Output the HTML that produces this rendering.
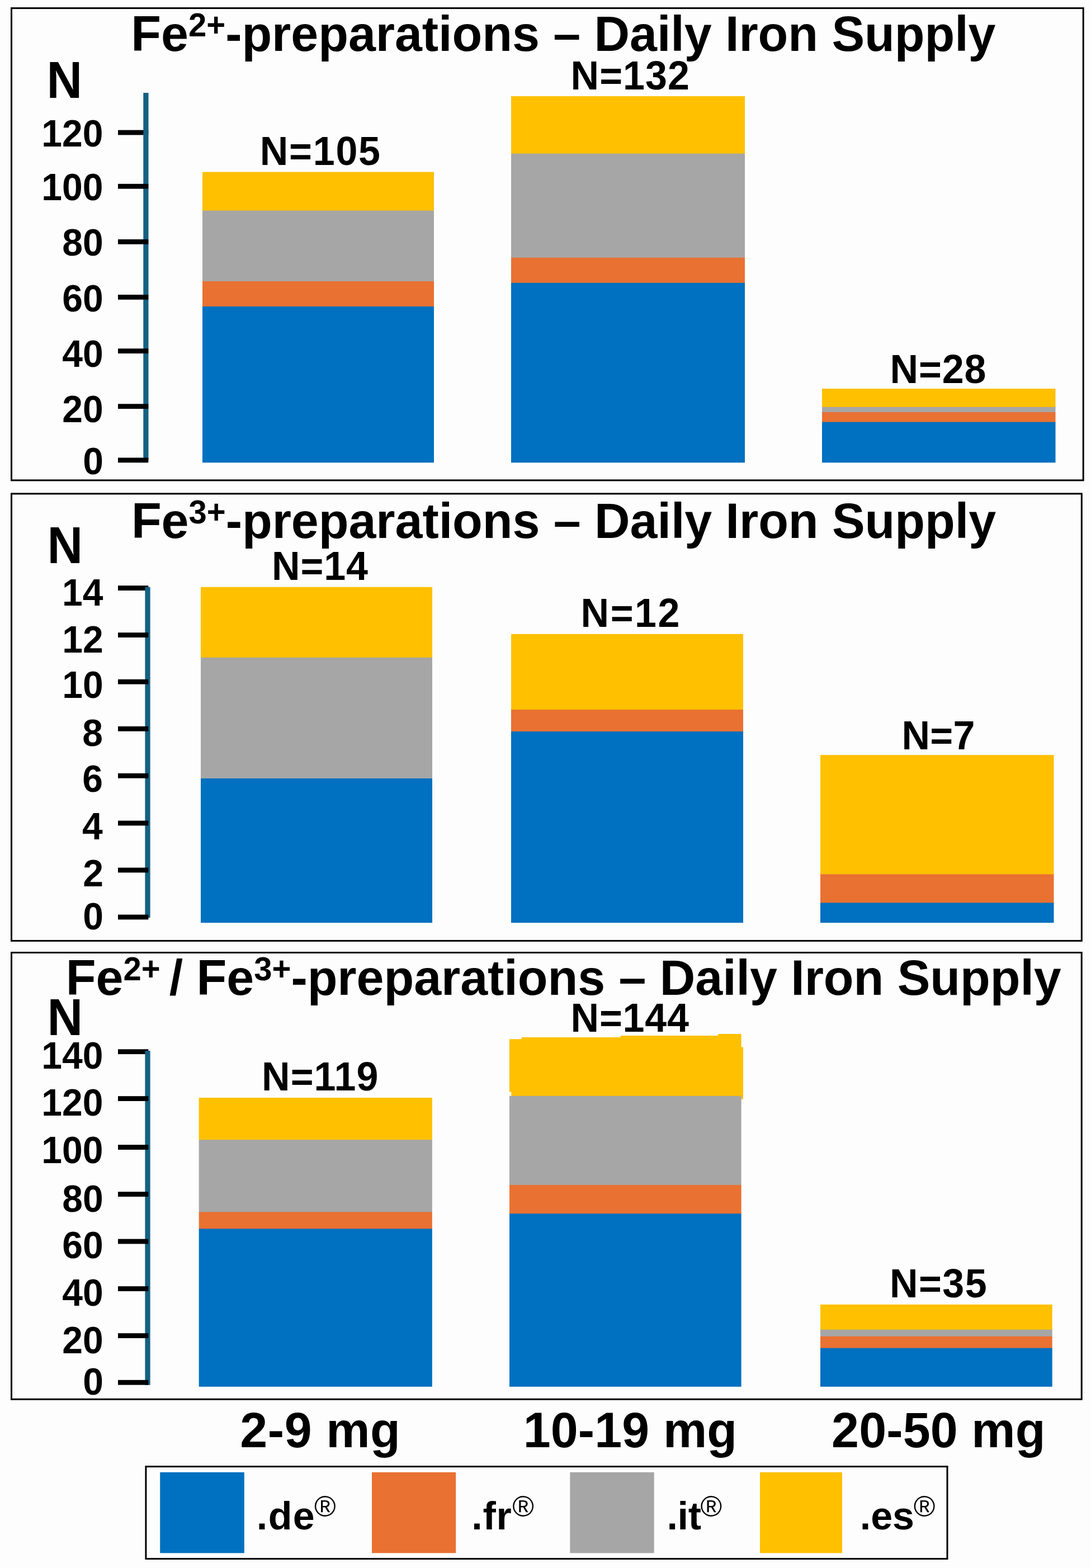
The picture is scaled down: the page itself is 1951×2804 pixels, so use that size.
<!DOCTYPE html>
<html lang="en"><head><meta charset="utf-8"><title>Daily Iron Supply</title><style>
html,body{margin:0;padding:0;background:#fdfdfd;}
body{width:1951px;height:2804px;position:relative;overflow:hidden;font-family:"Liberation Sans", Arial, Helvetica, sans-serif;font-weight:bold;color:#000;}
.g{position:absolute;left:0;top:0;}
.t{position:absolute;white-space:nowrap;line-height:100px;height:100px;}
.reg,.sup{letter-spacing:0;}
.sup{font-size:66%;position:relative;top:-0.426em;}
.reg{font-size:75%;font-weight:normal;position:relative;top:-0.442em;}
</style></head>
<body>
<svg class="g" width="1951" height="2804" viewBox="0 0 1951 2804">
<rect x="20.5" y="14.6" width="1916.7" height="844.3" fill="none" stroke="#000" stroke-width="3"/>
<rect x="20.5" y="882.9" width="1913.8" height="799.5" fill="none" stroke="#000" stroke-width="3"/>
<rect x="20.5" y="1703.5" width="1913.7" height="798.8" fill="none" stroke="#000" stroke-width="3"/>
<rect x="260.9" y="2622.6" width="1433.1" height="164.9" fill="none" stroke="#000" stroke-width="3"/>
<rect x="362" y="307.5" width="414" height="70.1" fill="#ffc000"/>
<rect x="362" y="376.6" width="414" height="127.4" fill="#a6a6a6"/>
<rect x="362" y="503" width="414" height="46" fill="#e97132"/>
<rect x="362" y="548" width="414" height="279.3" fill="#0070c0"/>
<rect x="914" y="172" width="418" height="103.6" fill="#ffc000"/>
<rect x="914" y="274.6" width="418" height="187.1" fill="#a6a6a6"/>
<rect x="914" y="460.7" width="418" height="46.1" fill="#e97132"/>
<rect x="914" y="505.8" width="418" height="321.5" fill="#0070c0"/>
<rect x="1470" y="695" width="417.5" height="33.8" fill="#ffc000"/>
<rect x="1470" y="727.8" width="417.5" height="10.2" fill="#a6a6a6"/>
<rect x="1470" y="737" width="417.5" height="18.7" fill="#e97132"/>
<rect x="1470" y="754.7" width="417.5" height="72.6" fill="#0070c0"/>
<rect x="359" y="1049.8" width="414" height="127" fill="#ffc000"/>
<rect x="359" y="1175.8" width="414" height="217.2" fill="#a6a6a6"/>
<rect x="359" y="1392" width="414" height="258.2" fill="#0070c0"/>
<rect x="914" y="1133.8" width="415" height="136.2" fill="#ffc000"/>
<rect x="914" y="1269" width="415" height="40" fill="#e97132"/>
<rect x="914" y="1308" width="415" height="342.2" fill="#0070c0"/>
<rect x="1467" y="1350.1" width="417.5" height="214.3" fill="#ffc000"/>
<rect x="1467" y="1563.4" width="417.5" height="52" fill="#e97132"/>
<rect x="1467" y="1614.4" width="417.5" height="35.8" fill="#0070c0"/>
<rect x="355.7" y="1963" width="417.1" height="76.2" fill="#ffc000"/>
<rect x="355.7" y="2038.2" width="417.1" height="130.1" fill="#a6a6a6"/>
<rect x="355.7" y="2167.3" width="417.1" height="31" fill="#e97132"/>
<rect x="355.7" y="2197.3" width="417.1" height="282.5" fill="#0070c0"/>
<polygon points="911,1858.2 932.6,1858.2 932.6,1855.1 1109.6,1855.1 1109.6,1852.1 1284,1852.1 1284,1849 1325.6,1849 1325.6,1872.4 1329,1872.4 1329,1965.7 1325.6,1965.7 1325.6,1962 914.3,1962 914.3,1952.5 911,1952.5" fill="#ffc000"/>
<rect x="911" y="1959.8" width="414.6" height="160.2" fill="#a6a6a6"/>
<rect x="911" y="2119" width="414.6" height="52.2" fill="#e97132"/>
<rect x="911" y="2170.2" width="414.6" height="309.6" fill="#0070c0"/>
<rect x="1467" y="2332.8" width="414.7" height="46" fill="#ffc000"/>
<rect x="1467" y="2377.8" width="414.7" height="12.9" fill="#a6a6a6"/>
<rect x="1467" y="2389.7" width="414.7" height="22" fill="#e97132"/>
<rect x="1467" y="2410.7" width="414.7" height="69.1" fill="#0070c0"/>
<rect x="211" y="232.6" width="54.3" height="8.8" fill="#000"/>
<rect x="256.3" y="166" width="9.2" height="657" fill="#156082"/>
<rect x="211" y="328.8" width="54.3" height="8.8" fill="#000"/>
<rect x="211" y="428" width="54.3" height="8.8" fill="#000"/>
<rect x="211" y="527" width="54.3" height="8.8" fill="#000"/>
<rect x="211" y="623.3" width="54.3" height="8.8" fill="#000"/>
<rect x="211" y="722.3" width="54.3" height="8.8" fill="#000"/>
<rect x="211" y="818.5" width="54.3" height="8.8" fill="#000"/>
<rect x="211" y="1047.2" width="54.3" height="8.8" fill="#000"/>
<rect x="259.4" y="1049.8" width="9.2" height="591.5" fill="#156082"/>
<rect x="211" y="1131.2" width="54.3" height="8.8" fill="#000"/>
<rect x="211" y="1214.8" width="54.3" height="8.8" fill="#000"/>
<rect x="211" y="1298.9" width="54.3" height="8.8" fill="#000"/>
<rect x="211" y="1382.9" width="54.3" height="8.8" fill="#000"/>
<rect x="211" y="1467.6" width="54.3" height="8.8" fill="#000"/>
<rect x="211" y="1551.6" width="54.3" height="8.8" fill="#000"/>
<rect x="211" y="1635.6" width="54.3" height="8.8" fill="#000"/>
<rect x="211" y="1876.3" width="54.3" height="8.8" fill="#000"/>
<rect x="259.4" y="1879" width="9.2" height="597.8" fill="#156082"/>
<rect x="211" y="1960.2" width="54.3" height="8.8" fill="#000"/>
<rect x="211" y="2047.2" width="54.3" height="8.8" fill="#000"/>
<rect x="211" y="2131.2" width="54.3" height="8.8" fill="#000"/>
<rect x="211" y="2215.6" width="54.3" height="8.8" fill="#000"/>
<rect x="211" y="2300.2" width="54.3" height="8.8" fill="#000"/>
<rect x="211" y="2384.2" width="54.3" height="8.8" fill="#000"/>
<rect x="211" y="2467.8" width="54.3" height="8.8" fill="#000"/>
<rect x="286.2" y="2632.8" width="150.6" height="144.5" fill="#0070c0"/>
<rect x="665" y="2632.8" width="150.2" height="144.5" fill="#e97132"/>
<rect x="1019.3" y="2632.8" width="150.4" height="144.5" fill="#a6a6a6"/>
<rect x="1359" y="2632.8" width="147" height="144.5" fill="#ffc000"/>
</svg>
<div class="t" style="left:234.3px;top:10.51px;font-size:88px;transform-origin:0 80.49px;transform:scaleY(1.02);letter-spacing:-0.05px;">Fe<span class="sup">2+</span>-preparations – Daily Iron Supply</div>
<div class="t" style="left:234.9px;top:882.11px;font-size:88px;transform-origin:0 80.49px;transform:scaleY(1.02);letter-spacing:-0.05px;">Fe<span class="sup">3+</span>-preparations – Daily Iron Supply</div>
<div class="t" style="left:117.8px;top:1699.31px;font-size:88px;transform-origin:0 80.49px;transform:scaleY(1.02);letter-spacing:-0.05px;">Fe<span class="sup">2+ </span>/ Fe<span class="sup">3+</span>-preparations – Daily Iron Supply</div>
<div class="t" style="left:83.6px;top:95.21px;font-size:88px;transform-origin:0 80.49px;transform:scaleY(1.045);">N</div>
<div class="t" style="left:84.4px;top:927.21px;font-size:88px;transform-origin:0 80.49px;transform:scaleY(1.045);">N</div>
<div class="t" style="left:84.4px;top:1771.21px;font-size:88px;transform-origin:0 80.49px;transform:scaleY(1.045);">N</div>
<div class="t" style="left:464.8px;top:220.85px;font-size:70px;transform-origin:0 74.25px;transform:scaleY(1.045);letter-spacing:1.75px;">N=105</div>
<div class="t" style="left:1020.6px;top:85.84px;font-size:70px;transform-origin:0 74.25px;transform:scaleY(1.045);letter-spacing:1.04px;">N=132</div>
<div class="t" style="left:1591.6px;top:611.35px;font-size:70px;transform-origin:0 74.25px;transform:scaleY(1.045);letter-spacing:0.83px;">N=28</div>
<div class="t" style="left:486.1px;top:962.84px;font-size:70px;transform-origin:0 74.25px;transform:scaleY(1.045);letter-spacing:0.87px;">N=14</div>
<div class="t" style="left:1038.6px;top:1047.14px;font-size:70px;transform-origin:0 74.25px;transform:scaleY(1.045);letter-spacing:2.54px;">N=12</div>
<div class="t" style="left:1612.4px;top:1266.34px;font-size:70px;transform-origin:0 74.25px;transform:scaleY(1.045);letter-spacing:0.35px;">N=7</div>
<div class="t" style="left:468.1px;top:1875.84px;font-size:70px;transform-origin:0 74.25px;transform:scaleY(1.045);letter-spacing:1px;">N=119</div>
<div class="t" style="left:1020.6px;top:1771.34px;font-size:70px;transform-origin:0 74.25px;transform:scaleY(1.045);letter-spacing:0.79px;">N=144</div>
<div class="t" style="left:1591px;top:2245.94px;font-size:70px;transform-origin:0 74.25px;transform:scaleY(1.045);letter-spacing:1.46px;">N=35</div>
<div class="t" style="left:429.3px;top:2507.51px;font-size:88px;transform-origin:0 80.49px;transform:scaleY(1.02);letter-spacing:0.58px;">2-9 mg</div>
<div class="t" style="left:935.7px;top:2507.51px;font-size:88px;transform-origin:0 80.49px;transform:scaleY(1.02);letter-spacing:0.13px;">10-19 mg</div>
<div class="t" style="left:1487.1px;top:2507.51px;font-size:88px;transform-origin:0 80.49px;transform:scaleY(1.02);letter-spacing:0.12px;">20-50 mg</div>
<div class="t" style="left:458.8px;top:2660.74px;font-size:70px;transform-origin:0 74.25px;transform:scaleY(1.0);letter-spacing:1.4px;">.de<span class="reg" style="left:-2.1px">®</span></div>
<div class="t" style="left:843.3px;top:2660.74px;font-size:70px;transform-origin:0 74.25px;transform:scaleY(1.0);letter-spacing:0.7px;">.fr<span class="reg" style="left:0.8px">®</span></div>
<div class="t" style="left:1192.5px;top:2660.74px;font-size:70px;transform-origin:0 74.25px;transform:scaleY(1.0);letter-spacing:-0.35px;">.it<span class="reg" style="left:-1.1px">®</span></div>
<div class="t" style="left:1537.8px;top:2660.74px;font-size:70px;transform-origin:0 74.25px;transform:scaleY(1.0);letter-spacing:-0.1px;">.es<span class="reg" style="left:-1.1px">®</span></div>
<div class="t" style="left:74.3px;top:189.23px;font-size:66px;transform-origin:0 72.87px;transform:scaleY(1.05);">120</div>
<div class="t" style="left:74.3px;top:285.13px;font-size:66px;transform-origin:0 72.87px;transform:scaleY(1.05);">100</div>
<div class="t" style="left:111.3px;top:384.13px;font-size:66px;transform-origin:0 72.87px;transform:scaleY(1.05);">80</div>
<div class="t" style="left:111.3px;top:483.63px;font-size:66px;transform-origin:0 72.87px;transform:scaleY(1.05);">60</div>
<div class="t" style="left:111.3px;top:582.63px;font-size:66px;transform-origin:0 72.87px;transform:scaleY(1.05);">40</div>
<div class="t" style="left:111.3px;top:681.93px;font-size:66px;transform-origin:0 72.87px;transform:scaleY(1.05);">20</div>
<div class="t" style="left:148.3px;top:774.73px;font-size:66px;transform-origin:0 72.87px;transform:scaleY(1.05);">0</div>
<div class="t" style="left:111px;top:1009.93px;font-size:66px;transform-origin:0 72.87px;transform:scaleY(1.05);">14</div>
<div class="t" style="left:111.3px;top:1093.93px;font-size:66px;transform-origin:0 72.87px;transform:scaleY(1.05);">12</div>
<div class="t" style="left:111.3px;top:1174.73px;font-size:66px;transform-origin:0 72.87px;transform:scaleY(1.05);">10</div>
<div class="t" style="left:147.3px;top:1261.33px;font-size:66px;transform-origin:0 72.87px;transform:scaleY(1.05);">8</div>
<div class="t" style="left:147.3px;top:1342.83px;font-size:66px;transform-origin:0 72.87px;transform:scaleY(1.05);">6</div>
<div class="t" style="left:147px;top:1427.53px;font-size:66px;transform-origin:0 72.87px;transform:scaleY(1.05);">4</div>
<div class="t" style="left:148.3px;top:1511.63px;font-size:66px;transform-origin:0 72.87px;transform:scaleY(1.05);">2</div>
<div class="t" style="left:148.3px;top:1589.03px;font-size:66px;transform-origin:0 72.87px;transform:scaleY(1.05);">0</div>
<div class="t" style="left:74.3px;top:1838.13px;font-size:66px;transform-origin:0 72.87px;transform:scaleY(1.05);">140</div>
<div class="t" style="left:74.3px;top:1922.13px;font-size:66px;transform-origin:0 72.87px;transform:scaleY(1.05);">120</div>
<div class="t" style="left:74.3px;top:2006.83px;font-size:66px;transform-origin:0 72.87px;transform:scaleY(1.05);">100</div>
<div class="t" style="left:111.3px;top:2093.63px;font-size:66px;transform-origin:0 72.87px;transform:scaleY(1.05);">80</div>
<div class="t" style="left:111.3px;top:2177.43px;font-size:66px;transform-origin:0 72.87px;transform:scaleY(1.05);">60</div>
<div class="t" style="left:111.3px;top:2262.13px;font-size:66px;transform-origin:0 72.87px;transform:scaleY(1.05);">40</div>
<div class="t" style="left:111.3px;top:2346.63px;font-size:66px;transform-origin:0 72.87px;transform:scaleY(1.05);">20</div>
<div class="t" style="left:148.3px;top:2421.13px;font-size:66px;transform-origin:0 72.87px;transform:scaleY(1.05);">0</div>
</body></html>
